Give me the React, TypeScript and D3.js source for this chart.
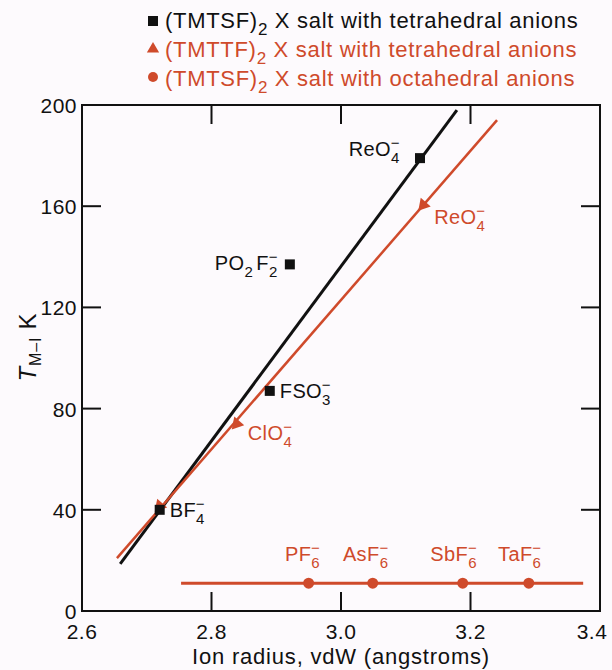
import React from "react";
import * as d3 from "d3";

// (TMTSF)2X, tetrahedral anions
const seNames = ["BF4", "FSO3", "PO2F2", "ReO4"];
const seRadius = [2.72, 2.89, 2.921, 3.122];
const seTmi = [40, 87, 137, 179];

// (TMTTF)2X, tetrahedral anions
const sNames = ["BF4", "ClO4", "ReO4"];
const sRadius = [2.72, 2.839, 3.127];
const sTmi = [41.5, 74, 160.5];

// (TMTSF)2X, octahedral anions
const octNames = ["PF6", "AsF6", "SbF6", "TaF6"];
const octRadius = [2.95, 3.049, 3.188, 3.29];
const octTmi = [11, 11, 11, 11];

// fitted lines (end points)
const seFitX = [2.659, 3.179];
const seFitY = [18.6, 198];
const sFitX = [2.654, 3.241];
const sFitY = [20.9, 194];
const octFitX = [2.753, 3.374];
const octFitY = [11, 11];

const xTicks = [2.6, 2.8, 3.0, 3.2, 3.4];
const yTicks = [0, 40, 80, 120, 160, 200];

const RED = "#cf4a2b";
const INK = "#111";
const FONT = "'Liberation Sans', Arial, sans-serif";

// label pieces: base, subscript, superscript (sub and sup stacked)
const chem: Record<string, [string, string, string][]> = {
  BF4: [["BF", "4", "−"]],
  FSO3: [["FSO", "3", "−"]],
  PO2F2: [["PO", "2", ""], ["F", "2", "−"]],
  ReO4: [["ReO", "4", "−"]],
  ClO4: [["ClO", "4", "−"]],
  PF6: [["PF", "6", "−"]],
  AsF6: [["AsF", "6", "−"]],
  SbF6: [["SbF", "6", "−"]],
  TaF6: [["TaF", "6", "−"]],
};

const ChemLabel = ({ name, x, y, anchor = "start", fill = INK }: any) => {
  const out: any[] = [];
  let off = 0; // current baseline offset
  chem[name].forEach((p, i) => {
    out.push(<tspan key={i + "b"} dy={-off} dx={i ? 3 : 0}>{p[0]}</tspan>);
    out.push(<tspan key={i + "s"} fontSize={15} dy={7}>{p[1]}</tspan>);
    off = 7;
    if (p[2]) {
      out.push(<tspan key={i + "p"} fontSize={15} dx={-9} dy={-15}>{p[2]}</tspan>);
      off = -8;
    }
  });
  return (
    <text x={x} y={y} textAnchor={anchor} fontSize={20} letterSpacing={0.4} fill={fill} fontFamily={FONT}>
      {out}
    </text>
  );
};

const LegendText = ({ x, y, head, rest, fill }: any) => (
  <text x={x} y={y} fill={fill} fontFamily={FONT} fontSize={22} letterSpacing={0.7}>
    {head}
    <tspan fontSize={17} dy={7}>2</tspan>
    <tspan dy={-7}>{" X " + rest}</tspan>
  </text>
);

export default function App() {
  const W = 612;
  const H = 670;
  const x = d3.scaleLinear().domain([2.6, 3.4]).range([82, 600]);
  const y = d3.scaleLinear().domain([0, 200]).range([611, 105]);
  const line = d3.line<[number, number]>().x((d) => x(d[0])).y((d) => y(d[1]));
  const zip = (a: number[], b: number[]) => a.map((v, i) => [v, b[i]] as [number, number]);

  const tri = d3.symbol(d3.symbolTriangle, 75)()!;
  const angle = (Math.atan2(y(sFitY[1]) - y(sFitY[0]), x(sFitX[1]) - x(sFitX[0])) * 180) / Math.PI;
  const triRot = angle - 90; // apex points down the line, like an arrowhead
  const tick = 19;

  const seOffsets: [number, number, string][] = [[10, 7, "start"], [10, 7, "start"], [-12, 6, "end"], [-20, -2, "end"]];
  const sOffsets: [number, number][] = [[10, 6], [11, 16], [11, 19]];
  const octOffsets = [-6, -7, -9, -9];

  return (
    <svg width={W} height={H} style={{ position: "absolute", left: 0, top: 0, background: "#fdfafd" }}>
      {/* legend */}
      <rect x={148} y={16} width={10} height={10} fill={INK} />
      <LegendText x={165} y={28} head="(TMTSF)" rest="salt with tetrahedral anions" fill={INK} />
      <path d={d3.symbol(d3.symbolTriangle, 65)()!} transform="translate(153,49)" fill={RED} />
      <LegendText x={165} y={57} head="(TMTTF)" rest="salt with tetrahedral anions" fill={RED} />
      <circle cx={153} cy={77} r={5} fill={RED} />
      <LegendText x={165} y={86} head="(TMTSF)" rest="salt with octahedral anions" fill={RED} />

      {/* frame and ticks */}
      <rect x={x(2.6)} y={y(200)} width={x(3.4) - x(2.6)} height={y(0) - y(200)} fill="none" stroke={INK} strokeWidth={2} />
      {xTicks.slice(1, -1).map((t) => (
        <g key={"xt" + t} stroke={INK} strokeWidth={2}>
          <line x1={x(t)} x2={x(t)} y1={y(0)} y2={y(0) - tick} />
          <line x1={x(t)} x2={x(t)} y1={y(200)} y2={y(200) + tick} />
        </g>
      ))}
      {yTicks.slice(1, -1).map((t) => (
        <g key={"yt" + t} stroke={INK} strokeWidth={2}>
          <line x1={x(2.6)} x2={x(2.6) + tick} y1={y(t)} y2={y(t)} />
          <line x1={x(3.4)} x2={x(3.4) - tick} y1={y(t)} y2={y(t)} />
        </g>
      ))}
      <g fontFamily={FONT} fontSize={21} letterSpacing={0.5} fill={INK}>
        {xTicks.map((t) => (
          <text key={"xl" + t} x={Math.min(x(t), 592)} y={y(0) + 28} textAnchor="middle">{t.toFixed(1)}</text>
        ))}
        {yTicks.map((t) => (
          <text key={"yl" + t} x={x(2.6) - 5} y={y(t) + 8} textAnchor="end">{t}</text>
        ))}
      </g>
      <text x={(x(2.6) + x(3.4)) / 2} y={664} textAnchor="middle" fontFamily={FONT} fontSize={22} letterSpacing={0.8} fill={INK}>
        Ion radius, vdW (angstroms)
      </text>
      <text transform="translate(36,347) rotate(-90)" textAnchor="middle" fontFamily={FONT} fontSize={24} letterSpacing={0.8} fill={INK}>
        <tspan fontStyle="italic">T</tspan>
        <tspan fontSize={16} dy={5}>M–I</tspan>
        <tspan dy={-5}>{"  K"}</tspan>
      </text>

      {/* fitted lines */}
      <path d={line(zip(seFitX, seFitY))!} stroke={INK} strokeWidth={3} fill="none" />
      <path d={line(zip(sFitX, sFitY))!} stroke={RED} strokeWidth={2.5} fill="none" />
      <path d={line(zip(octFitX, octFitY))!} stroke={RED} strokeWidth={3} fill="none" />

      {/* TMTTF triangles */}
      {sRadius.map((r, i) => (
        <g key={"s" + i}>
          <path d={tri} transform={`translate(${x(r)},${y(sTmi[i])}) rotate(${triRot})`} fill={RED} />
          {i > 0 && (
            <ChemLabel name={sNames[i]} x={x(r) + sOffsets[i][0]} y={y(sTmi[i]) + sOffsets[i][1]} fill={RED} />
          )}
        </g>
      ))}

      {/* TMTSF squares */}
      {seRadius.map((r, i) => (
        <g key={"se" + i}>
          <rect x={x(r) - 5} y={y(seTmi[i]) - 5} width={10} height={10} fill={INK} />
          <ChemLabel name={seNames[i]} x={x(r) + seOffsets[i][0]} y={y(seTmi[i]) + seOffsets[i][1]} anchor={seOffsets[i][2]} />
        </g>
      ))}

      {/* octahedral circles */}
      {octRadius.map((r, i) => (
        <g key={"o" + i}>
          <circle cx={x(r)} cy={y(octTmi[i])} r={5.5} fill={RED} />
          <ChemLabel name={octNames[i]} x={x(r) + octOffsets[i]} y={y(octTmi[i]) - 22} anchor="middle" fill={RED} />
        </g>
      ))}
    </svg>
  );
}
